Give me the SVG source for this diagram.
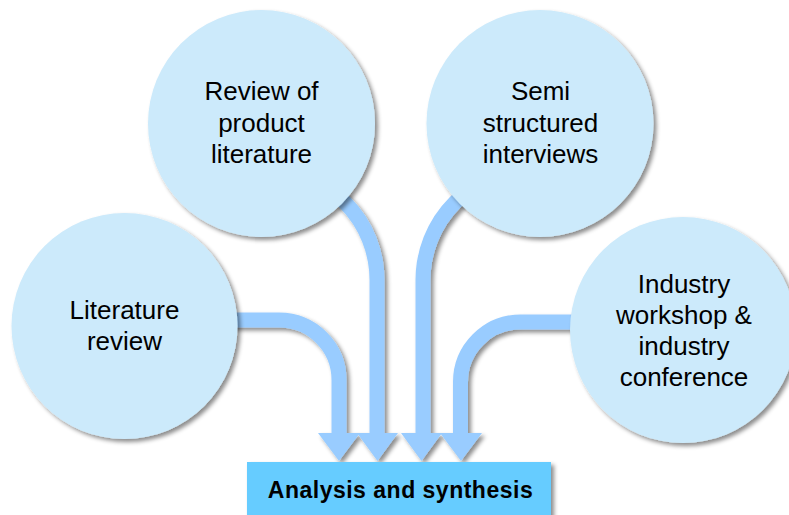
<svg xmlns="http://www.w3.org/2000/svg" width="789" height="515" viewBox="0 0 789 515">
<defs>
<filter id="sh" x="-20%" y="-20%" width="140%" height="140%">
<feDropShadow dx="3" dy="3" stdDeviation="2" flood-color="#000" flood-opacity="0.45"/>
</filter>
</defs>
<style>
.node{fill:#CCEAFB;filter:url(#sh)}
.lbl{font-family:"Liberation Sans",Arial,sans-serif;font-size:26px;fill:#000;text-anchor:middle}
.strip{fill:none;stroke:#99CCFF;stroke-width:15}
.head{fill:#99CCFF}
.box{fill:#66CCFF;filter:url(#sh)}
.boxlbl{font-family:"Liberation Sans",Arial,sans-serif;font-size:23px;letter-spacing:0.5px;font-weight:bold;fill:#000;text-anchor:middle}
</style>
<rect width="789" height="515" fill="#fff"/>
<g id="connectors" filter="url(#sh)">
<path class="strip" d="M200 320 L279 320 A60 60 0 0 1 339 380 L339 434"/>
<path class="strip" d="M267 170 A110 110 0 0 1 377 280 L377 434"/>
<path class="strip" d="M533 170 A110 110 0 0 0 423 280 L423 434"/>
<path class="strip" d="M600 322 L520.5 322 A60 60 0 0 0 460.5 382 L460.5 434"/>
<polygon class="head" points="318,433 360,433 339,461"/>
<polygon class="head" points="357,433 398,433 377.5,461"/>
<polygon class="head" points="401,433 442,433 421.5,461"/>
<polygon class="head" points="440,433 482,433 461,461"/>
</g>
<g id="literature-review">
<circle class="node" cx="124.5" cy="326" r="113"/>
<text class="lbl" x="124.5" y="319">Literature</text>
<text class="lbl" x="124.5" y="350">review</text>
</g>
<g id="review-product-literature">
<circle class="node" cx="261.5" cy="123.5" r="113.5"/>
<text class="lbl" x="261.5" y="100">Review of</text>
<text class="lbl" x="261.5" y="132">product</text>
<text class="lbl" x="261.5" y="163">literature</text>
</g>
<g id="semi-structured-interviews">
<circle class="node" cx="540" cy="123.5" r="113.5"/>
<text class="lbl" x="540.5" y="100">Semi</text>
<text class="lbl" x="540.5" y="132">structured</text>
<text class="lbl" x="540.5" y="163">interviews</text>
</g>
<g id="industry-workshop">
<circle class="node" cx="683" cy="330" r="113"/>
<text class="lbl" x="684" y="293">Industry</text>
<text class="lbl" x="684" y="324">workshop &amp;</text>
<text class="lbl" x="684" y="355">industry</text>
<text class="lbl" x="684" y="386">conference</text>
</g>
<g id="analysis-synthesis">
<rect class="box" x="247" y="462" width="304" height="60"/>
<text class="boxlbl" x="400.5" y="498">Analysis and synthesis</text>
</g>
</svg>
